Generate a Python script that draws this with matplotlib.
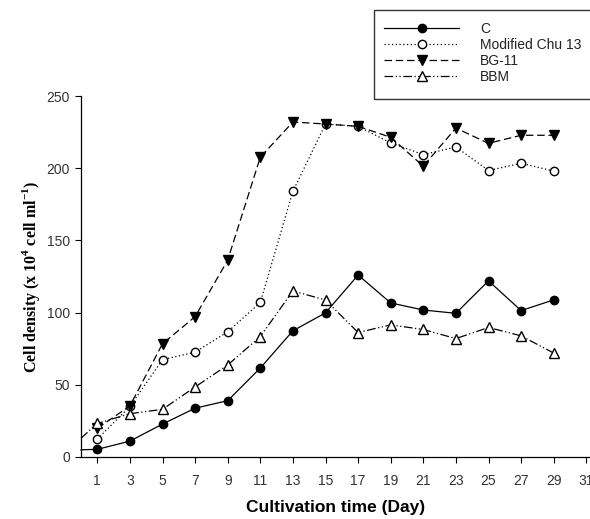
import numpy as np
import matplotlib
matplotlib.use("Agg")
import matplotlib.pyplot as plt
from matplotlib.patches import Rectangle

days = [1, 3, 5, 7, 9, 11, 13, 15, 17, 19, 21, 23, 25, 27, 29]

c_vals = [5.3, 11, 22.8, 33.8, 39, 61.6, 87.4, 99.8, 126, 106.7, 101.8, 99.5, 122, 101.4, 108.8]
chu_vals = [12.4, 35, 67.4, 72.6, 86.7, 107, 184, 230.6, 229, 217.5, 209.4, 214.7, 198.4, 203.4, 198]
bg_vals = [19.8, 35.4, 78.4, 97.2, 136.3, 207.6, 232, 230.6, 229, 221.4, 201.4, 227.8, 217.2, 222.8, 222.8]
bbm_vals = [23.2, 30, 33, 48.5, 63.7, 83.4, 115, 108.7, 86.2, 91.5, 88.3, 82, 89.7, 83.9, 72]

# lines run in from the y axis before day 1 (no marker there)
c_start = 5.0
bbm_start = 13.0

labels = ["C", "Modified Chu 13", "BG-11", "BBM"]
xticks = list(range(1, 32, 2))
yticks = [0, 50, 100, 150, 200, 250]

plt.rcParams['font.family'] = ['Liberation Sans', 'DejaVu Sans']

fig = plt.figure(figsize=(5.9, 5.19), dpi=100)
ax = fig.add_axes([81/590, 1-457/519, 1-81/590, 361/519])

lw = 0.9
ms = 6
ax.plot([0] + days, [c_start] + c_vals, '-', color='black', lw=lw, marker='o',
        ms=ms, mfc='black', mec='black', markevery=list(range(1, 16)), label=labels[0], clip_on=False)
ax.plot(days, chu_vals, linestyle=(0, (1, 2)), color='black', lw=lw, marker='o',
        ms=ms, mfc='white', mec='black', label=labels[1], clip_on=False)
ax.plot(days, bg_vals, linestyle=(0, (6, 3)), color='black', lw=lw, marker='v',
        ms=ms+1, mfc='black', mec='black', label=labels[2], clip_on=False)
ax.plot([0] + days, [bbm_start] + bbm_vals, linestyle=(0, (7, 2, 1, 2, 1, 2)), color='black', lw=lw,
        marker='^', ms=ms+1, mfc='white', mec='black', markevery=list(range(1, 16)),
        label=labels[3], clip_on=False)

ax.set_xlim(0, 509/16.3)
ax.set_ylim(0, 250)
ax.set_xticks(xticks)
ax.set_yticks(yticks)
ax.spines['top'].set_visible(False)
ax.spines['right'].set_visible(False)
ax.spines['left'].set_linewidth(0.9)
ax.spines['bottom'].set_linewidth(0.9)
ax.tick_params(direction='out', length=4, width=0.8, labelsize=10, labelcolor='#333333')
ax.tick_params(axis='x', pad=8)
ax.tick_params(axis='y', pad=4)

ax.set_xlabel("Cultivation time (Day)", fontsize=12.5, fontweight='bold', labelpad=9)
ax.set_ylabel("Cell density (x 10$^\\mathregular{4}$ cell ml$^\\mathregular{-1}$)",
              fontsize=11.5, fontweight='bold', family='Liberation Serif', labelpad=3)

leg = fig.legend(loc='upper left', bbox_to_anchor=(384/590, 1-22/519), frameon=False,
                 fontsize=10, handlelength=5.4, handletextpad=1.5, labelspacing=0.14,
                 borderpad=0, borderaxespad=0)
for t in leg.get_texts():
    t.set_color('#222222')

fig.patches.append(Rectangle((374/590, 1-99/519), 1, 89/519, transform=fig.transFigure,
                             fill=False, edgecolor='#333333', lw=1.0))

fig.savefig("out.png", dpi=100)
